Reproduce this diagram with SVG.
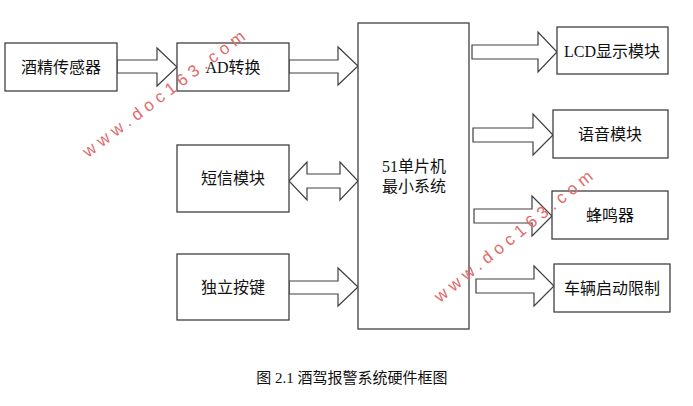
<svg xmlns="http://www.w3.org/2000/svg" width="693" height="406" viewBox="0 0 693 406">
<style>
.b{fill:#fff;stroke:#404040;stroke-width:1.3}
.a{fill:#fff;stroke:#404040;stroke-width:1.2;stroke-linejoin:miter}
.t{font-family:"Liberation Serif","Noto Sans CJK SC",serif;font-size:16px;fill:#111;text-anchor:middle;dominant-baseline:central}
.w{font-family:"Liberation Sans",sans-serif;font-size:17px;fill:#e06a6a;letter-spacing:5px}
</style>
<rect width="693" height="406" fill="#fff"/>
<g id="connectors">
<polygon class="a" points="117,60 157,60 157,48 177,67 157,86 157,73 117,73"/>
<polygon class="a" points="289,60 338,60 338,47 358,66 338,85 338,73 289,73"/>
<polygon class="a" points="289,181 307,162 307,174 340,174 340,162 358,181 340,200 340,188 307,188 307,200"/>
<polygon class="a" points="289,281 338,281 338,268 358,287 338,306 338,294 289,294"/>
<polygon class="a" points="472,45 538,45 538,32 557,52 538,72 538,59 472,59"/>
<polygon class="a" points="473,128 533,128 533,114 553,135 533,155 533,142 473,142"/>
<polygon class="a" points="474,209 532,209 532,196 552,216 532,236 532,223 474,223"/>
<polygon class="a" points="476,279 534,279 534,266 554,286 534,306 534,293 476,293"/>
</g>
<g id="sensor"><rect class="b" x="5" y="43" width="112" height="48"/><text class="t" x="61" y="67">酒精传感器</text></g>
<g id="ad"><rect class="b" x="177" y="43" width="112" height="48"/><text class="t" x="233" y="67">AD转换</text></g>
<g id="sms"><rect class="b" x="177" y="145" width="112" height="67"/><text class="t" x="233" y="178">短信模块</text></g>
<g id="keys"><rect class="b" x="177" y="254" width="112" height="66"/><text class="t" x="233" y="287">独立按键</text></g>
<g id="mcu"><rect class="b" x="358" y="23" width="111" height="306"/><text class="t" x="414" y="166">51单片机</text><text class="t" x="414" y="186">最小系统</text></g>
<g id="lcd"><rect class="b" x="557" y="27" width="111" height="47"/><text class="t" x="612" y="51">LCD显示模块</text></g>
<g id="voice"><rect class="b" x="553" y="110" width="115" height="48"/><text class="t" x="610" y="134">语音模块</text></g>
<g id="buzzer"><rect class="b" x="552" y="191" width="116" height="48"/><text class="t" x="610" y="215">蜂鸣器</text></g>
<g id="car"><rect class="b" x="554" y="264" width="116" height="48"/><text class="t" x="612" y="288">车辆启动限制</text></g>
<text class="t" x="352" y="378" style="font-size:15px">图 2.1 酒驾报警系统硬件框图</text>
<text class="w" transform="translate(88,158) rotate(-37)">www.doc163.com</text>
<text class="w" transform="translate(440,303) rotate(-39)">www.doc163.com</text>
</svg>
